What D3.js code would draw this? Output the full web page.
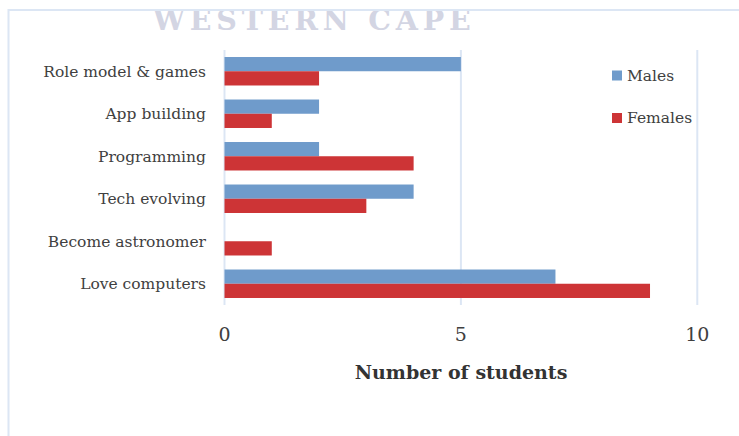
<!DOCTYPE html>
<html>
<head>
<meta charset="utf-8">
<script src="https://cdn.jsdelivr.net/npm/d3@7"></script>
<style>
  html, body { margin: 0; padding: 0; background: #fff; }
  svg { display: block; }
  text { font-family: "DejaVu Serif", "Liberation Serif", serif; }
</style>
</head>
<body>
<svg id="chart" width="739" height="436"></svg>
<script>
// Reasons for interest, top to bottom
const categories = ["Role model & games", "App building", "Programming", "Tech evolving", "Become astronomer", "Love computers"];
const males   = [5, 2, 2, 4, 0, 7];
const females = [2, 1, 4, 3, 1, 9];
const seriesNames = ["Males", "Females"];
const seriesColors = ["#6f9bcb", "#cd3436"];
const xTicks = [0, 5, 10];

const svg = d3.select("#chart");

// watermark heading
svg.append("text")
  .attr("x", 153).attr("y", 29.5)
  .attr("font-family", "Liberation Serif")
  .attr("font-size", 28.5).attr("font-weight", "bold")
  .attr("letter-spacing", 4.8)
  .attr("fill", "#d3d5e3")
  .text("WESTERN CAPE");

// outer frame
svg.append("rect")
  .attr("x", 8.5).attr("y", 10).attr("width", 760).attr("height", 460)
  .attr("fill", "none").attr("stroke", "#dce6f4").attr("stroke-width", 2);

const x = d3.scaleLinear().domain([0, 10]).range([224.5, 697.3]);
const y = d3.scaleBand().domain(categories).range([50, 305]).paddingInner(0.33).paddingOuter(0.165);
const sub = d3.scaleBand().domain(seriesNames).range([0, y.bandwidth()]);

// vertical gridlines
svg.append("g").selectAll("line").data(xTicks).join("line")
  .attr("x1", d => x(d)).attr("x2", d => x(d))
  .attr("y1", 50).attr("y2", 305)
  .attr("stroke", "#dce6f4").attr("stroke-width", 2);

const rows = categories.map((c, i) => ({ c, vals: [males[i], females[i]] }));

const g = svg.append("g");
rows.forEach(r => {
  r.vals.forEach((v, j) => {
    if (v <= 0) return;
    g.append("rect")
      .attr("x", x(0))
      .attr("y", y(r.c) + sub(seriesNames[j]))
      .attr("width", x(v) - x(0))
      .attr("height", sub.bandwidth())
      .attr("fill", seriesColors[j]);
  });
});

// category labels
svg.append("g").selectAll("text").data(categories).join("text")
  .attr("x", 206)
  .attr("y", d => y(d) + y.bandwidth() / 2)
  .attr("dy", "0.35em")
  .attr("text-anchor", "end")
  .attr("font-size", 15.5)
  .attr("fill", "#404040")
  .text(d => d);

// x axis tick labels
svg.append("g").selectAll("text").data(xTicks).join("text")
  .attr("x", d => x(d))
  .attr("y", 334)
  .attr("dy", "0.35em")
  .attr("text-anchor", "middle")
  .attr("font-size", 19)
  .attr("fill", "#404040")
  .text(d => d);

// axis title
svg.append("text")
  .attr("x", 461).attr("y", 372)
  .attr("dy", "0.35em")
  .attr("text-anchor", "middle")
  .attr("font-size", 19).attr("font-weight", "bold")
  .attr("fill", "#333")
  .text("Number of students");

// legend
const leg = svg.append("g");
seriesNames.forEach((s, i) => {
  const ly = 75.5 + i * 42.5;
  leg.append("rect").attr("x", 612).attr("y", ly - 5).attr("width", 10).attr("height", 10).attr("fill", seriesColors[i]);
  leg.append("text").attr("x", 627).attr("y", ly).attr("dy", "0.35em")
    .attr("font-size", 15.5).attr("fill", "#404040").text(s);
});
</script>
</body>
</html>
